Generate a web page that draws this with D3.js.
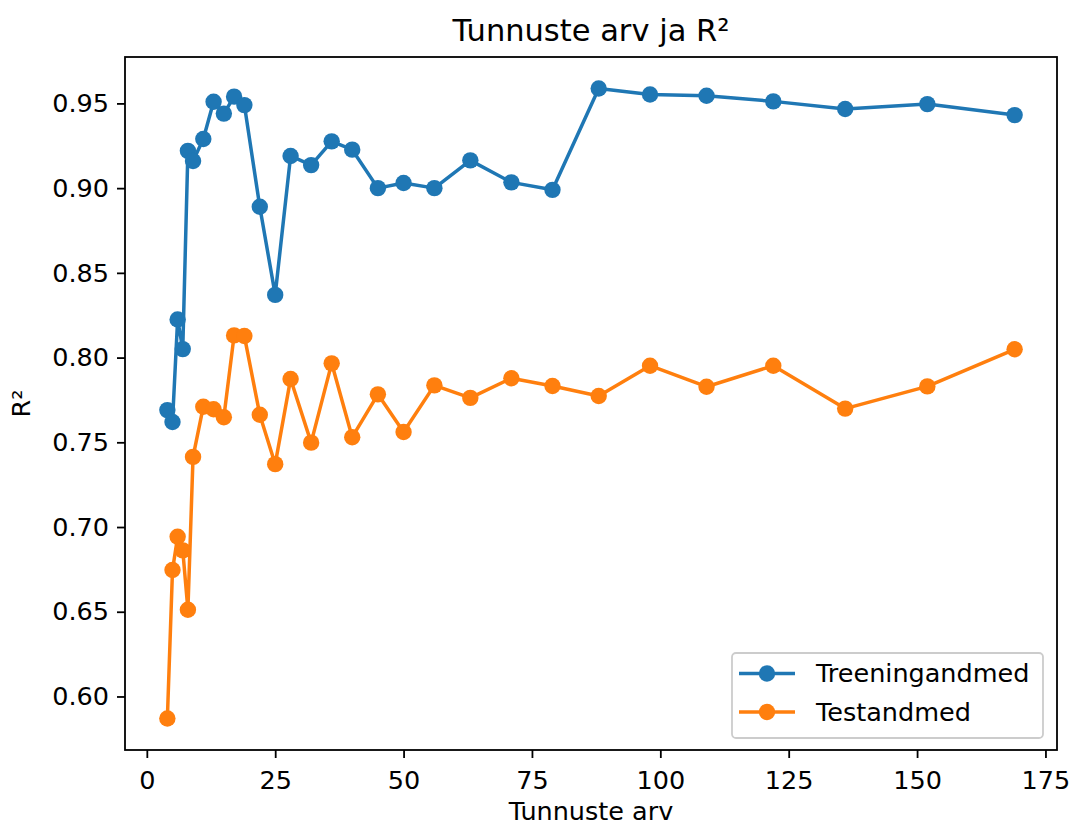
<!DOCTYPE html>
<html>
<head>
<meta charset="utf-8">
<script src="https://cdn.jsdelivr.net/npm/d3@7"></script>
<style>
  body { margin: 0; background: #fff; }
  svg text { font-family: "DejaVu Sans", sans-serif; fill: #000; }
</style>
</head>
<body>
<div id="chart"></div>
<script>
'use strict';

// number of features
var featureCounts = [4, 5, 6, 7, 8, 9, 11, 13, 15, 17, 19, 22, 25, 28, 32, 36, 40, 45, 50, 56, 63, 71, 79, 88, 98, 109, 122, 136, 152, 169];

var trainR2 = [0.769, 0.762, 0.8225, 0.805, 0.922, 0.916, 0.929, 0.951, 0.944, 0.954, 0.949, 0.889, 0.837, 0.919, 0.9136,
               0.9276, 0.9227, 0.900, 0.903, 0.900, 0.9164, 0.9034, 0.899, 0.9588, 0.9553, 0.9545, 0.9512, 0.9467, 0.9496, 0.9431];

var testR2 = [0.587, 0.6746, 0.6943, 0.6862, 0.6512, 0.7414, 0.771, 0.7695, 0.7648, 0.8131, 0.8127, 0.7663, 0.7371, 0.7874, 0.7498,
              0.7966, 0.753, 0.7783, 0.7561, 0.7836, 0.7762, 0.7878, 0.7832, 0.7773, 0.7952, 0.7828, 0.7952, 0.7699, 0.783, 0.8049];

var seriesNames = ["Treeningandmed", "Testandmed"];
var xTicks = [0, 25, 50, 75, 100, 125, 150, 175];
var yTicks = [0.60, 0.65, 0.70, 0.75, 0.80, 0.85, 0.90, 0.95];

var width = 1070,
    height = 825,
    margin = { top: 57, right: 13, bottom: 75, left: 125 };

var plotW = width - margin.left - margin.right,
    plotH = height - margin.top - margin.bottom;

var colors = ["#1f77b4", "#ff7f0e"];
var fontSize = 25.5;
var markerR = 8.2;

var svg = d3.select("#chart").append("svg")
    .attr("width", width)
    .attr("height", height);

var g = svg.append("g")
    .attr("transform", "translate(" + margin.left + "," + margin.top + ")");

// matplotlib style 5% padding on both axes
var xMin = d3.min(featureCounts), xMax = d3.max(featureCounts);
var xPad = (xMax - xMin) * 0.05;
var allY = trainR2.concat(testR2);
var yMin = d3.min(allY), yMax = d3.max(allY);
var yPad = (yMax - yMin) * 0.05;

var xScale = d3.scaleLinear()
    .domain([xMin - xPad, xMax + xPad])
    .range([0, plotW]);

var yScale = d3.scaleLinear()
    .domain([yMin - yPad, yMax + yPad])
    .range([plotH, 0]);

var xAxisGen = d3.axisBottom(xScale).tickValues(xTicks).tickSize(8).tickPadding(8).tickFormat(d3.format("d"));
var yAxisGen = d3.axisLeft(yScale).tickValues(yTicks).tickSize(8).tickPadding(8).tickFormat(d3.format(".2f"));

var xAxis = g.append("g")
    .attr("class", "Xaxis")
    .attr("transform", "translate(0," + plotH + ")")
    .call(xAxisGen);

var yAxis = g.append("g")
    .attr("class", "Yaxis")
    .call(yAxisGen);

[xAxis, yAxis].forEach(function(ax){
    ax.select(".domain").remove();
    ax.selectAll(".tick line").attr("stroke", "#000").attr("stroke-width", 1.8);
    ax.selectAll(".tick text").style("font-size", fontSize + "px");
});
xAxis.selectAll(".tick text").attr("dy", "0.9em");

// lines + markers
var lineGen = d3.line()
    .x(function(d){ return xScale(d[0]); })
    .y(function(d){ return yScale(d[1]); });

[trainR2, testR2].forEach(function(vals, si){
    var pts = featureCounts.map(function(x, i){ return [x, vals[i]]; });
    g.append("path")
        .datum(pts)
        .attr("fill", "none")
        .attr("stroke", colors[si])
        .attr("stroke-width", 3.5)
        .attr("stroke-linejoin", "round")
        .attr("d", lineGen);
    g.selectAll(".pt" + si)
        .data(pts)
        .enter().append("circle")
        .attr("class", "pt" + si)
        .attr("cx", function(d){ return xScale(d[0]); })
        .attr("cy", function(d){ return yScale(d[1]); })
        .attr("r", markerR)
        .attr("fill", colors[si]);
});

// frame
g.append("rect")
    .attr("width", plotW)
    .attr("height", plotH)
    .attr("fill", "none")
    .attr("stroke", "#000")
    .attr("stroke-width", 1.8);

// title and axis labels
svg.append("text")
    .attr("x", margin.left + plotW / 2)
    .attr("y", 41)
    .attr("text-anchor", "middle")
    .style("font-size", "30.5px")
    .text("Tunnuste arv ja R²");

svg.append("text")
    .attr("x", margin.left + plotW / 2)
    .attr("y", 820)
    .attr("text-anchor", "middle")
    .style("font-size", fontSize + "px")
    .text("Tunnuste arv");

svg.append("text")
    .attr("transform", "translate(30," + (margin.top + plotH / 2) + ") rotate(-90)")
    .attr("text-anchor", "middle")
    .style("font-size", fontSize + "px")
    .text("R²");

// legend, lower right
var legend = svg.append("g")
    .attr("transform", "translate(732,653)");

legend.append("rect")
    .attr("width", 311)
    .attr("height", 85)
    .attr("rx", 4)
    .attr("fill", "#fff")
    .attr("fill-opacity", 0.8)
    .attr("stroke", "#ccc")
    .attr("stroke-width", 1.8);

seriesNames.forEach(function(name, i){
    var yy = 20.5 + i * 38.5;
    legend.append("line")
        .attr("x1", 7).attr("x2", 63)
        .attr("y1", yy).attr("y2", yy)
        .attr("stroke", colors[i])
        .attr("stroke-width", 3.5);
    legend.append("circle")
        .attr("cx", 35).attr("cy", yy)
        .attr("r", markerR)
        .attr("fill", colors[i]);
    legend.append("text")
        .attr("x", 84)
        .attr("y", yy)
        .attr("dy", "0.35em")
        .style("font-size", fontSize + "px")
        .text(name);
});
</script>
</body>
</html>
